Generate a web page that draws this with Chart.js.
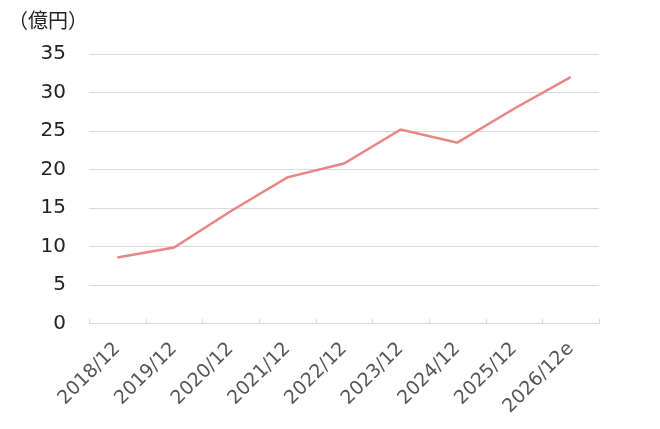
<!DOCTYPE html>
<html>
<head>
<meta charset="utf-8">
<script src="https://cdn.jsdelivr.net/npm/chart.js@4/dist/chart.umd.min.js"></script>
<style>
  html, body { margin: 0; padding: 0; background: #fff; }
  #wrap { width: 660px; height: 429px; }
</style>
</head>
<body>
<div id="wrap"><canvas id="c"></canvas></div>
<script>
// data
const periods = ["2018/12", "2019/12", "2020/12", "2021/12", "2022/12", "2023/12", "2024/12", "2025/12", "2026/12e"];
const sales = [8.6, 9.9, 14.6, 19.0, 20.8, 25.2, 23.5, 27.9, 32.0];
const yTicks = [0, 5, 10, 15, 20, 25, 30, 35];
const unitLabel = "（億円）";

// short upward ticks between categories on the x axis
const innerTicks = {
  id: "innerTicks",
  afterDatasetsDraw(chart) {
    const x = chart.scales.x;
    const ctx = chart.ctx;
    const half = (x.getPixelForValue(1) - x.getPixelForValue(0)) / 2;
    const bottom = chart.chartArea.bottom;
    ctx.save();
    ctx.strokeStyle = "#d9d9d9";
    ctx.lineWidth = 1;
    for (let i = 0; i <= periods.length; i++) {
      const px = Math.round(x.getPixelForValue(i) - half) + 0.5;
      ctx.beginPath();
      ctx.moveTo(px, bottom);
      ctx.lineTo(px, bottom - 5);
      ctx.stroke();
    }
    ctx.restore();
  }
};

const ctx = document.getElementById("c").getContext("2d");
new Chart(ctx, {
  type: "line",
  data: {
    labels: periods,
    datasets: [
      {
        label: "売上高",
        data: sales,
        borderColor: "#e98585",
        backgroundColor: "#e98585",
        borderWidth: 2.5,
        pointRadius: 0,
        tension: 0,
      },
    ],
  },
  options: {
    responsive: true,
    maintainAspectRatio: false,
    animation: false,
    layout: { padding: { left: 8, right: 61, top: 8, bottom: 5 } },
    plugins: {
      legend: { display: false },
      tooltip: { enabled: false },
      title: {
        display: true,
        text: unitLabel,
        align: "start",
        color: "#222",
        font: { family: "'Noto Sans CJK JP'", size: 20, weight: "normal" },
        padding: { top: 0, bottom: 22 },
      },
    },
    scales: {
      y: {
        min: 0,
        max: 35,
        afterBuildTicks(axis) {
          axis.ticks = yTicks.map((v) => ({ value: v }));
        },
        afterFit(axis) {
          axis.width = 81;
        },
        grid: { color: "#d9d9d9", tickLength: 0, drawTicks: false },
        border: { display: false },
        ticks: {
          color: "#222",
          padding: 23,
          font: { family: "'DejaVu Sans'", size: 20 },
        },
      },
      x: {
        offset: true,
        grid: { display: false },
        border: { display: false },
        ticks: {
          color: "#555",
          maxRotation: 45,
          minRotation: 45,
          padding: 6,
          font: { family: "'DejaVu Sans'", size: 19 },
        },
      },
    },
  },
  plugins: [innerTicks],
});
</script>
</body>
</html>
